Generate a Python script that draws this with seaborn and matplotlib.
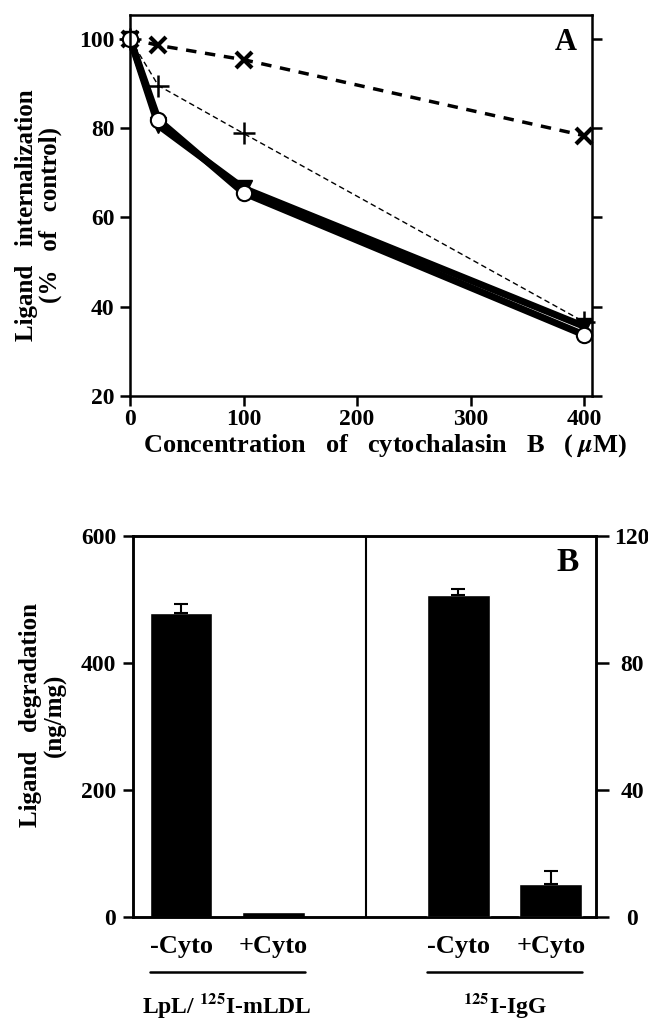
import numpy as np
import pandas as pd
import seaborn as sns
import matplotlib.pyplot as plt
from matplotlib import transforms

# Panel A: ligand internalization vs cytochalasin B concentration
conc = [0, 25, 100, 400]
cross_vals = [100, 98.5, 95.3, 78.3]
plus_vals = [100, 89.5, 78.8, 36.6]
tri_vals = [100, 80.6, 66.5, 35.6]
circle_vals = [100, 81.8, 65.5, 33.7]

# Panel B: ligand degradation bars
bar_keys = ['mLDL -Cyto', 'mLDL +Cyto', 'gap', 'IgG -Cyto', 'IgG +Cyto']
tick_labels = ['-Cyto', '+Cyto', '', '-Cyto', '+Cyto']
ldl_keys = ['mLDL -Cyto', 'mLDL +Cyto']
ldl_vals = [478, 8]
ldl_err = [15, 0]
igg_keys = ['IgG -Cyto', 'IgG +Cyto']
igg_vals = [101.4, 10.4]
igg_err = [2, 4]
group_names = ['LpL/ $^{\\mathbf{125}}$I-mLDL', '$^{\\mathbf{125}}$I-IgG']

sns.set_style('ticks')
plt.rcParams['font.family'] = ['Liberation Serif', 'DejaVu Serif']
plt.rcParams['font.weight'] = 'bold'
plt.rcParams['mathtext.fontset'] = 'stix'
plt.rcParams['axes.linewidth'] = 1.8
plt.rcParams['axes.edgecolor'] = 'black'
plt.rcParams['axes.labelcolor'] = 'black'
plt.rcParams['text.color'] = 'black'
plt.rcParams['xtick.color'] = 'black'
plt.rcParams['ytick.color'] = 'black'

fig = plt.figure(figsize=(6.48, 10.21), dpi=100)

# ---------------- Panel A ----------------
ax = fig.add_axes([0.2006, 0.6121, 0.7130, 0.3732])
df_a = pd.DataFrame({'conc': conc, 'cross': cross_vals, 'plus': plus_vals,
                     'tri': tri_vals, 'circle': circle_vals})

sns.lineplot(data=df_a, x='conc', y='cross', ax=ax, color='black', lw=2.5,
             linestyle=(0, (3, 2.5)), marker='x', markersize=11,
             markeredgewidth=3, markeredgecolor='black', clip_on=False)
sns.lineplot(data=df_a, x='conc', y='plus', ax=ax, color='black', lw=1,
             linestyle=(0, (4, 2.5)), marker='+', markersize=16,
             markeredgewidth=1.8, markeredgecolor='black', clip_on=False)
sns.lineplot(data=df_a, x='conc', y='tri', ax=ax, color='black', lw=5,
             marker='v', markersize=12, markeredgewidth=1,
             markeredgecolor='black', markerfacecolor='black', clip_on=False)
sns.lineplot(data=df_a, x='conc', y='circle', ax=ax, color='black', lw=5,
             marker='o', markersize=11, markeredgewidth=1.5,
             markeredgecolor='black', markerfacecolor='white', clip_on=False)

ax.set_xlim(0, 407)
ax.set_ylim(20, 105.3)
ax.set_xticks([0, 100, 200, 300, 400])
ax.set_yticks([20, 40, 60, 80, 100])
ax.tick_params(axis='both', direction='out', length=7, width=1.8,
               labelsize=17, pad=2)
ax.tick_params(axis='y', right=True, labelright=False, pad=4)
ax.set_xlabel('Concentration   of   cytochalasin   B   ( $\\mu$M)',
              fontsize=19, fontweight='bold')
ax.xaxis.set_label_coords(0.552, -0.095)
ax.set_ylabel('Ligand   internalization\n(%   of   control)', fontsize=18,
              fontweight='bold', linespacing=1.05)
ax.yaxis.set_label_coords(-0.147, 0.475)
ax.text(0.967, 0.965, 'A', transform=ax.transAxes, ha='right', va='top',
        fontsize=22, fontweight='bold')

# ---------------- Panel B ----------------
axb = fig.add_axes([0.2052, 0.1019, 0.7146, 0.3732])
axb2 = axb.twinx()
bar_w = 0.68

sns.barplot(x=ldl_keys, y=ldl_vals, order=bar_keys, color='black',
            saturation=1, width=bar_w, ax=axb)
sns.barplot(x=igg_keys, y=igg_vals, order=bar_keys, color='black',
            saturation=1, width=bar_w, ax=axb2)

for a, keys, vals, errs in [(axb, ldl_keys, ldl_vals, ldl_err),
                            (axb2, igg_keys, igg_vals, igg_err)]:
    for k, v, e in zip(keys, vals, errs):
        if e > 0:
            a.errorbar(bar_keys.index(k), v, yerr=[[0], [e]], fmt='none',
                       ecolor='black', elinewidth=1.5, capsize=5,
                       capthick=1.5)

axb.axvline(bar_keys.index('gap'), color='black', lw=1.5)

axb.set_xlim(-0.52, 4.49)
axb.set_ylim(0, 600)
axb2.set_ylim(0, 120)
axb.set_yticks([0, 200, 400, 600])
axb2.set_yticks([0, 40, 80, 120])
axb.set_xticks(range(len(bar_keys)))
axb.set_xticklabels(tick_labels)
axb.tick_params(axis='x', length=0, labelsize=19, pad=13)
axb.tick_params(axis='y', direction='out', length=7, width=1.8,
                labelsize=17, pad=5)
axb2.tick_params(axis='y', direction='out', length=9, width=1.8,
                 labelsize=17, pad=17)
for lbl in axb2.get_yticklabels():
    lbl.set_horizontalalignment('center')
axb.set_xlabel('')
axb.set_ylabel('Ligand   degradation\n(ng/mg)', fontsize=18,
               fontweight='bold', linespacing=1.05)
axb.yaxis.set_label_coords(-0.143, 0.53)
axb2.set_ylabel('')
axb.text(0.963, 0.97, 'B', transform=axb.transAxes, ha='right', va='top',
         fontsize=24, fontweight='bold')

trans = transforms.blended_transform_factory(axb.transData, axb.transAxes)
groups = [ldl_keys, igg_keys]
for keys, name in zip(groups, group_names):
    p0 = bar_keys.index(keys[0])
    p1 = bar_keys.index(keys[1])
    axb.plot([p0 - bar_w / 2, p1 + bar_w / 2], [-0.144, -0.144],
             transform=trans, clip_on=False, color='black', lw=1.8)
    axb.text((p0 + p1) / 2, -0.232, name, transform=trans, ha='center',
             va='center', fontsize=17, fontweight='bold')

fig.savefig('out.png', dpi=100)
